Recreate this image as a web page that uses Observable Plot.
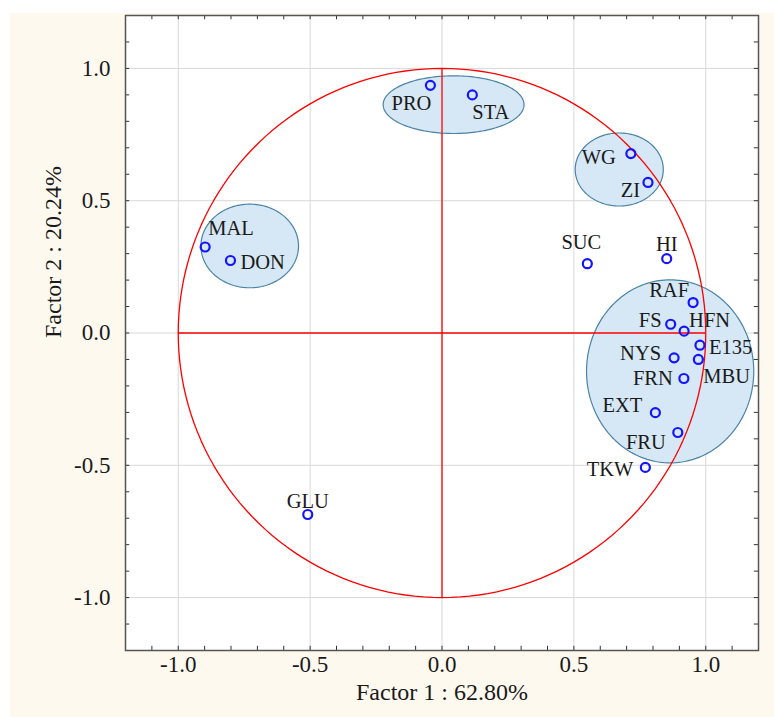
<!DOCTYPE html>
<html>
<head>
<meta charset="utf-8">
<script src="https://cdn.jsdelivr.net/npm/d3@7"></script>
<script src="https://cdn.jsdelivr.net/npm/@observablehq/plot@0.6"></script>
<style>
  html, body { margin: 0; padding: 0; background: #ffffff; }
  #chart svg { display: block; }
</style>
</head>
<body>
<div id="chart"></div>
<script>
// ---- Data ----
const variables = ["PRO","STA","WG","ZI","MAL","DON","SUC","HI","RAF","FS","HFN","E135","NYS","MBU","FRN","EXT","FRU","TKW","GLU"];
const factor1   = [-0.044, 0.115, 0.716, 0.781, -0.898, -0.802, 0.551, 0.852, 0.952, 0.867, 0.918, 0.978, 0.880, 0.972, 0.917, 0.809, 0.894, 0.771, -0.509];
const factor2   = [0.936, 0.900, 0.678, 0.569, 0.325, 0.274, 0.262, 0.281, 0.115, 0.033, 0.007, -0.046, -0.094, -0.100, -0.172, -0.301, -0.376, -0.508, -0.686];

// grouping ellipses (centre and radii in factor units)
const groupNames = ["PRO/STA", "WG/ZI", "MAL/DON", "cluster"];
const groupCX = [0.044, 0.672, -0.729, 0.865];
const groupCY = [0.863, 0.618, 0.329, -0.145];
const groupRX = [0.267, 0.167, 0.185, 0.317];
const groupRY = [0.109, 0.138, 0.158, 0.346];

const majorTicks = [-1.0, -0.5, 0.0, 0.5, 1.0];
const xTitle = "Factor 1 : 62.80%";
const yTitle = "Factor 2 : 20.24%";

// ---- Derived tables ----
const points = variables.map((v, i) => ({name: v, f1: factor1[i], f2: factor2[i]}));

const N = 180;
const ellipsePts = [];
groupNames.forEach((g, i) => {
  for (let k = 0; k <= N; k++) {
    const t = 2 * Math.PI * k / N;
    ellipsePts.push({g, x: groupCX[i] + groupRX[i] * Math.cos(t), y: groupCY[i] + groupRY[i] * Math.sin(t)});
  }
});
const circlePts = d3.range(0, N + 1).map(k => {
  const t = 2 * Math.PI * k / N;
  return {x: Math.cos(t), y: Math.sin(t)};
});
const minorTicks = d3.range(-12, 13).map(k => k / 10);

// label placement (pixels relative to the point)
const placement = {
  PRO:  ["end",    1,  18],
  STA:  ["start",  0,  18],
  WG:   ["end",  -15,   4],
  ZI:   ["end",   -8,   8],
  SUC:  ["middle", -6, -21],
  HI:   ["middle",  0, -14],
  MAL:  ["start",  3, -19],
  DON:  ["start", 10,   2],
  RAF:  ["end",   -4, -12],
  FS:   ["end",   -9,  -4],
  HFN:  ["start",  5, -11],
  E135: ["start",  9,   2],
  NYS:  ["end",  -13,  -4],
  MBU:  ["start",  5,  17],
  FRN:  ["end",  -11,   0],
  EXT:  ["end",  -13,  -7],
  FRU:  ["end",  -12,  10],
  TKW:  ["end",  -12,   2],
  GLU:  ["middle", 0, -13]
};

const tickLen = 0.016;
const labelMarks = variables.map(v => {
  const [anchor, dx, dy] = placement[v];
  return Plot.text(points, {
    filter: d => d.name === v, x: "f1", y: "f2", text: "name",
    textAnchor: anchor, dx, dy, fontSize: 20.5, fill: "#1a1a1a"
  });
});

const chart = Plot.plot({
  width: 774,
  height: 717,
  marginTop: 15,
  marginRight: 16,
  marginBottom: 67,
  marginLeft: 125,
  style: {
    fontFamily: "'Liberation Serif', 'Times New Roman', serif",
    background: "linear-gradient(#fdf9ef, #fdf9ef) 10px 13px / 764px 704px no-repeat, #ffffff"
  },
  x: {domain: [-1.2, 1.2], axis: null},
  y: {domain: [-1.2, 1.2], axis: null},
  marks: [
    Plot.frame({fill: "#ffffff"}),
    Plot.gridX(majorTicks, {stroke: "#d8d8d8", strokeOpacity: 1, strokeWidth: 1}),
    Plot.gridY(majorTicks, {stroke: "#d8d8d8", strokeOpacity: 1, strokeWidth: 1}),
    Plot.line(ellipsePts, {x: "x", y: "y", z: "g", fill: "#d6e8f5", stroke: "#4a83a6", strokeWidth: 1.2, curve: "linear-closed"}),
    Plot.line(circlePts, {x: "x", y: "y", stroke: "#ff0000", strokeWidth: 1.3, curve: "linear-closed"}),
    Plot.ruleX([0], {y1: -1, y2: 1, stroke: "#ff0000", strokeWidth: 1.3}),
    Plot.ruleY([0], {x1: -1, x2: 1, stroke: "#ff0000", strokeWidth: 1.3}),
    // minor ticks pointing inward on all four sides
    Plot.ruleX(minorTicks, {y1: -1.2, y2: -1.2 + tickLen, stroke: "#333", strokeWidth: 1}),
    Plot.ruleX(minorTicks, {y1: 1.2, y2: 1.2 - tickLen, stroke: "#333", strokeWidth: 1}),
    Plot.ruleY(minorTicks, {x1: -1.2, x2: -1.2 + tickLen, stroke: "#333", strokeWidth: 1}),
    Plot.ruleY(minorTicks, {x1: 1.2, x2: 1.2 - tickLen, stroke: "#333", strokeWidth: 1}),
    Plot.dot(points, {x: "f1", y: "f2", r: 4.5, stroke: "#1414ff", strokeWidth: 2.2, fill: "none"}),
    ...labelMarks,
    Plot.frame({stroke: "#555555", strokeWidth: 1.5}),
    Plot.axisX(majorTicks, {anchor: "bottom", tickSize: 0, tickPadding: 5, tickFormat: d => d.toFixed(1), fontSize: 23, fill: "#1a1a1a", label: null}),
    Plot.axisY(majorTicks, {anchor: "left", tickSize: 0, tickPadding: 15, tickFormat: d => d.toFixed(1), fontSize: 23, fill: "#1a1a1a", label: null}),
    Plot.text([xTitle], {frameAnchor: "bottom", dy: 49, text: d => d, fontSize: 24, fill: "#1a1a1a"}),
    Plot.text([yTitle], {frameAnchor: "left", dx: -72, dy: 5, rotate: -90, text: d => d, fontSize: 24, fill: "#1a1a1a"})
  ]
});

document.getElementById("chart").appendChild(chart);
</script>
</body>
</html>
